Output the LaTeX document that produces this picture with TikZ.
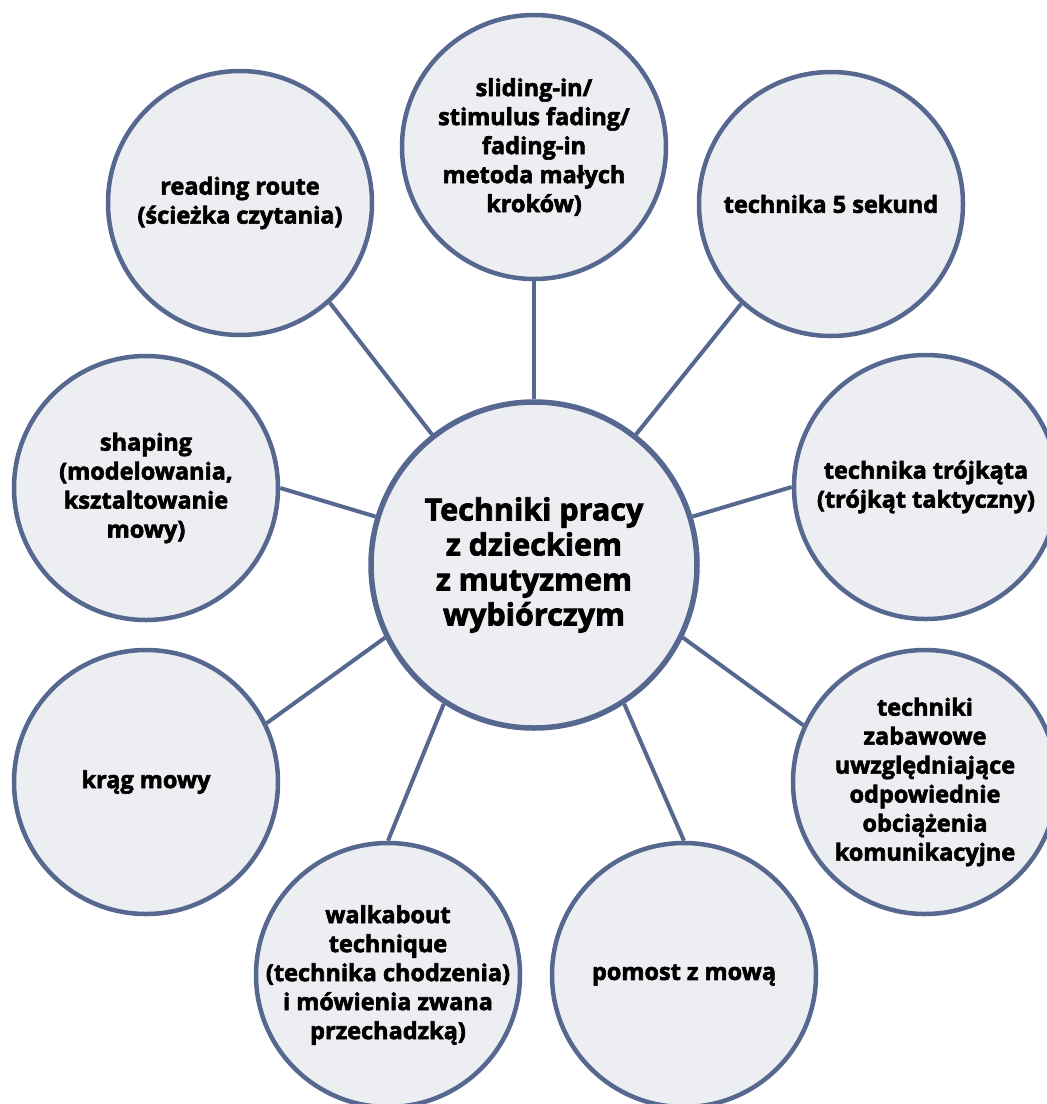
\documentclass[tikz,border=0pt]{standalone}
\usepackage{fontspec}
\setmainfont{Open Sans}[BoldFeatures={FakeBold=2.5}]
\definecolor{rim}{HTML}{56688F}
\definecolor{bubblefill}{HTML}{EDEEF2}

\begin{document}
\begin{tikzpicture}[
            x=1pt, y=-1pt,
            bubble/.style={circle, draw=rim, fill=bubblefill, line width=4.5pt,
                           minimum size=264pt, inner sep=-24pt, align=center,
                           font=\bfseries\fontsize{23.5}{29}\selectfont},
            hub/.style={bubble, line width=5.5pt, minimum size=326pt,
                        font=\bfseries\fontsize{30.5}{35}\selectfont},
            link/.style={draw=rim, line width=4pt}
        ]
        \useasboundingbox (0,0) rectangle (1047,1104);

        \node[hub] (hub) at (534,565) {Techniki pracy\\ z dzieckiem\\ z mutyzmem\\ wybiórczym};

        \node[bubble] (sliding)   at (534,147) {sliding-in/\\ stimulus fading/\\ fading-in\\ metoda małych\\ kroków)};
        \node[bubble] (fivesec)   at (831,204) {technika 5 sekund};
        \node[bubble] (triangle)  at (926,487) {technika trójkąta\\ (trójkąt taktyczny)};
        \node[bubble] (play)      at (925,782) {techniki\\ zabawowe\\ uwzględniające\\ odpowiednie\\ obciążenia\\ komunikacyjne};
        \node[bubble] (bridge)    at (684,975) {pomost z mową};
        \node[bubble] (walkabout) at (388,975) {walkabout\\ technique\\ (technika chodzenia)\\ i mówienia zwana\\ przechadzką)};
        \node[bubble] (speech)    at (146,782) {krąg mowy};
        \node[bubble] (shaping)   at (146,488) {shaping\\ (modelowania,\\ ksztaltowanie\\ mowy)};
        \node[bubble] (reading)   at (240,203) {reading route\\ (ścieżka czytania)};

        % spokes from the hub out to every bubble
        \draw[link] (hub.north) -- (sliding.south);
        \draw[link] (hub.52)    -- (fivesec.228);
        \draw[link] (hub.17)    -- (triangle.west);
        \draw[link] (hub.-26)   -- (play.155);
        \draw[link] (hub.-57)   -- (bridge.north);
        \draw[link] (hub.-123)  -- (walkabout.north);
        \draw[link] (hub.-154)  -- (speech.26);
        \draw[link] (hub.163)   -- (shaping.east);
        \draw[link] (hub.128)   -- (reading.-48);
    \end{tikzpicture}
\end{document}
